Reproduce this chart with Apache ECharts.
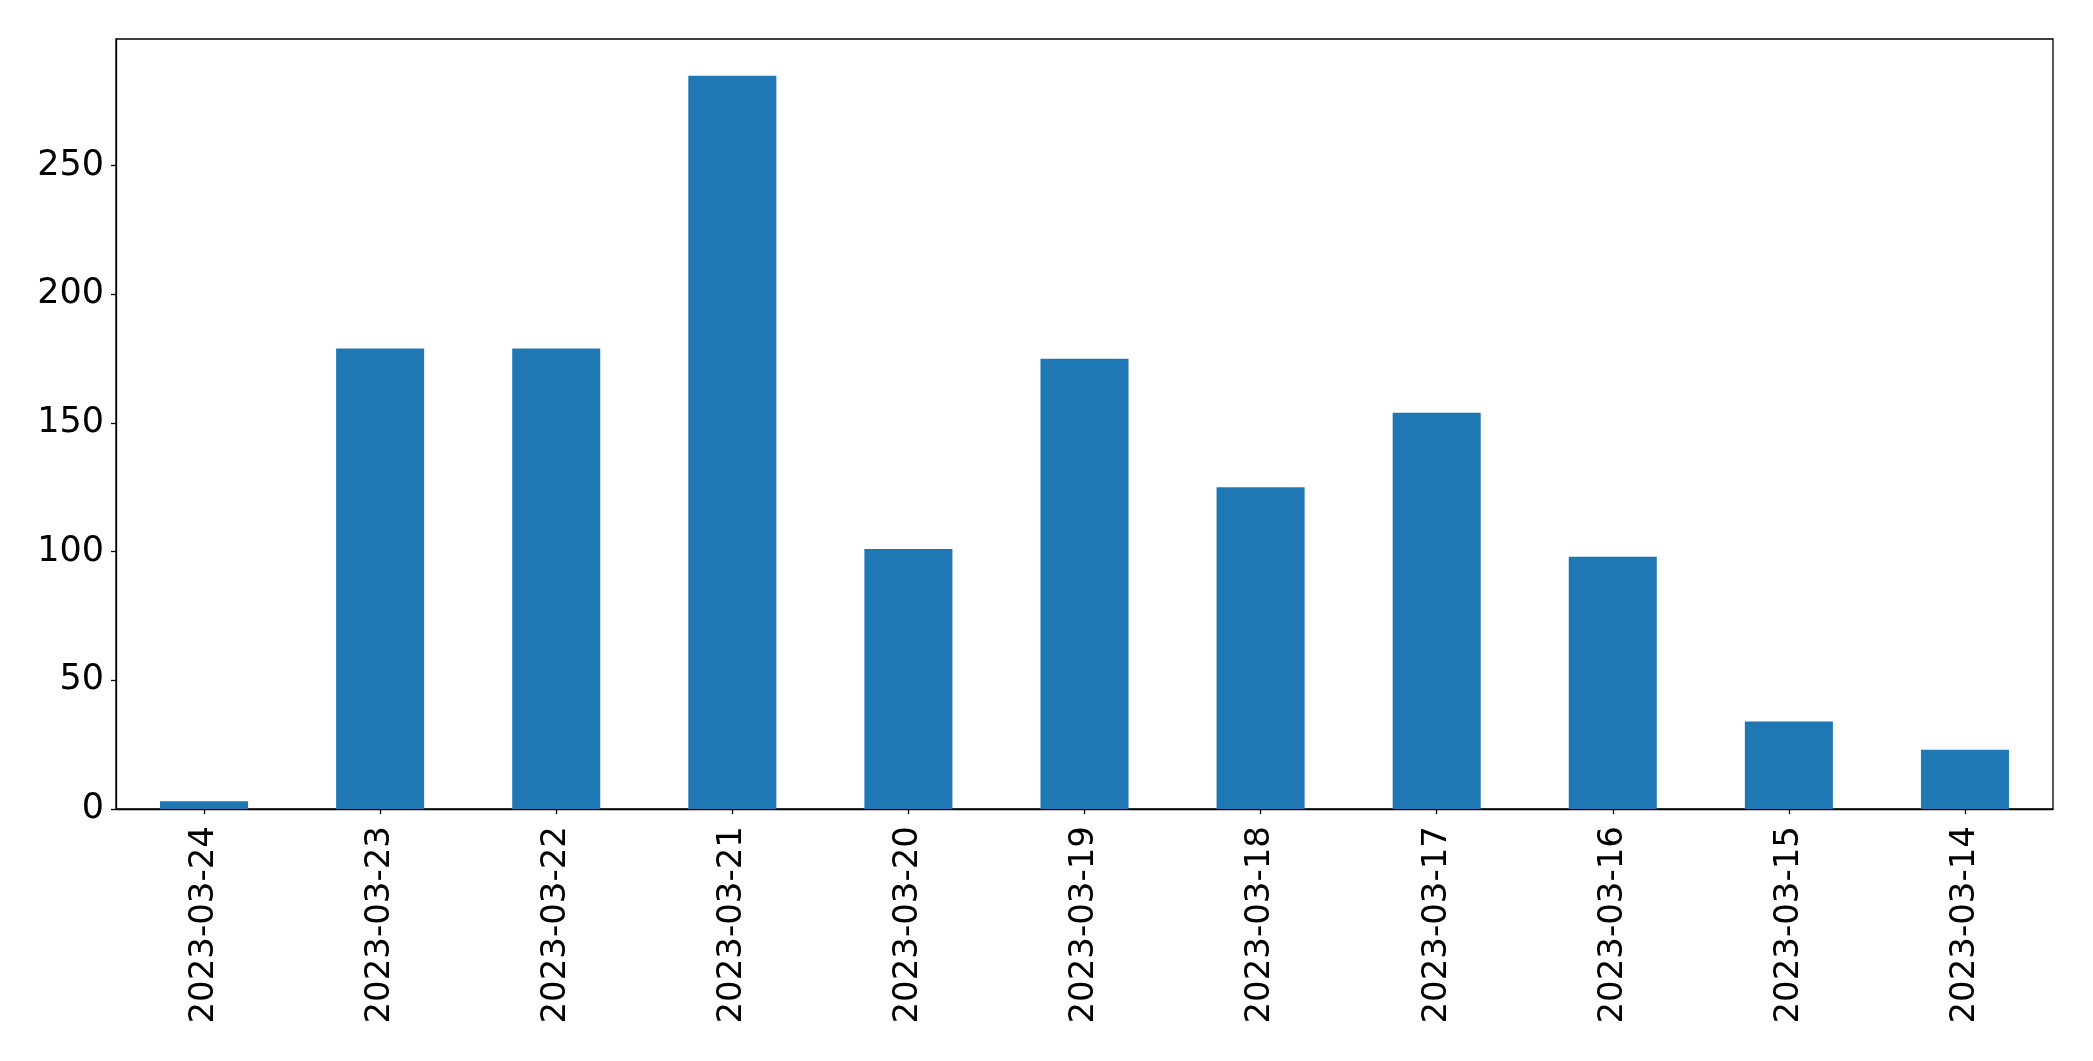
<!DOCTYPE html>
<html>
<head>
<meta charset="utf-8">
<script src="https://cdn.jsdelivr.net/npm/echarts@6/dist/echarts.min.js"></script>
<style>
html,body{margin:0;padding:0;background:#fff;}
#chart{width:2093px;height:1061px;}
</style>
</head>
<body>
<div id="chart"></div>
<script>
const categories = ["2023-03-24","2023-03-23","2023-03-22","2023-03-21","2023-03-20","2023-03-19","2023-03-18","2023-03-17","2023-03-16","2023-03-15","2023-03-14"];
const values = [3, 179, 179, 285, 101, 175, 125, 154, 98, 34, 23];
const yTicks = [0, 50, 100, 150, 200, 250];

const chart = echarts.init(document.getElementById('chart'), null, {renderer: 'canvas'});
const font = 'DejaVu Sans';
chart.setOption({
  animation: false,
  backgroundColor: '#ffffff',
  grid: {left: 116, right: 40, top: 39, bottom: 252, show: true, borderColor: '#000', borderWidth: 1.3, backgroundColor: 'transparent'},
  xAxis: {
    type: 'category',
    data: categories,
    boundaryGap: true,
    axisLine: {show: true, lineStyle: {color: '#000', width: 1.3}},
    axisTick: {show: true, alignWithLabel: true, length: 5, lineStyle: {color: '#000', width: 1.3}},
    axisLabel: {rotate: 90, margin: 17, fontFamily: font, fontSize: 34, color: '#000'},
    splitLine: {show: false}
  },
  yAxis: {
    type: 'value',
    min: 0,
    max: 299.25,
    interval: 50,
    axisLine: {show: true, lineStyle: {color: '#000', width: 1.3}},
    axisTick: {show: true, length: 5, lineStyle: {color: '#000', width: 1.3}, customValues: yTicks},
    axisLabel: {margin: 12, fontFamily: font, fontSize: 35, color: '#000', customValues: yTicks},
    splitLine: {show: false}
  },
  series: [{
    type: 'bar',
    data: values,
    barWidth: '50%',
    itemStyle: {color: '#1f77b4'}
  }]
});
</script>
</body>
</html>
